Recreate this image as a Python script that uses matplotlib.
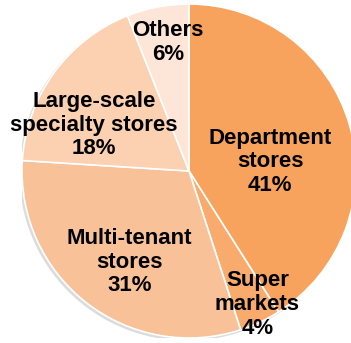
import matplotlib.pyplot as plt
from matplotlib.patches import Circle

labels = ["Department\nstores", "Super\nmarkets", "Multi-tenant\nstores",
          "Large-scale\nspecialty stores", "Others"]
shares = [41, 4, 31, 18, 6]
colors = ["#F7A35E", "#F8AB6C", "#F9C198", "#FBD1B1", "#FDE6D7"]
# label centres, in pie units
label_xy = [(0.485, 0.054), (0.41, -0.80), (-0.356, -0.545),
            (-0.569, 0.275), (-0.126, 0.772)]

fig = plt.figure(figsize=(3.51, 3.43), dpi=100)
ax = fig.add_axes([22/351, 5/343, 334/351, 334/343])

# faint shadow behind the pie
ax.add_patch(Circle((-0.012, -0.012), 1.0, color="#dcdcdc", zorder=0))

ax.pie(shares, colors=colors, startangle=90, counterclock=False,
       wedgeprops=dict(edgecolor="white", linewidth=1.2),
       radius=1.0)

for lab, val, (x, y) in zip(labels, shares, label_xy):
    ax.text(x, y, f"{lab}\n{val}%", ha="center", va="center",
            fontsize=16, fontweight="bold", family="Liberation Sans",
            linespacing=1.18, color="black")

ax.set_xlim(-1, 1)
ax.set_ylim(-1, 1)
ax.set_aspect("equal")
ax.axis("off")

fig.savefig("out.png", dpi=100)
